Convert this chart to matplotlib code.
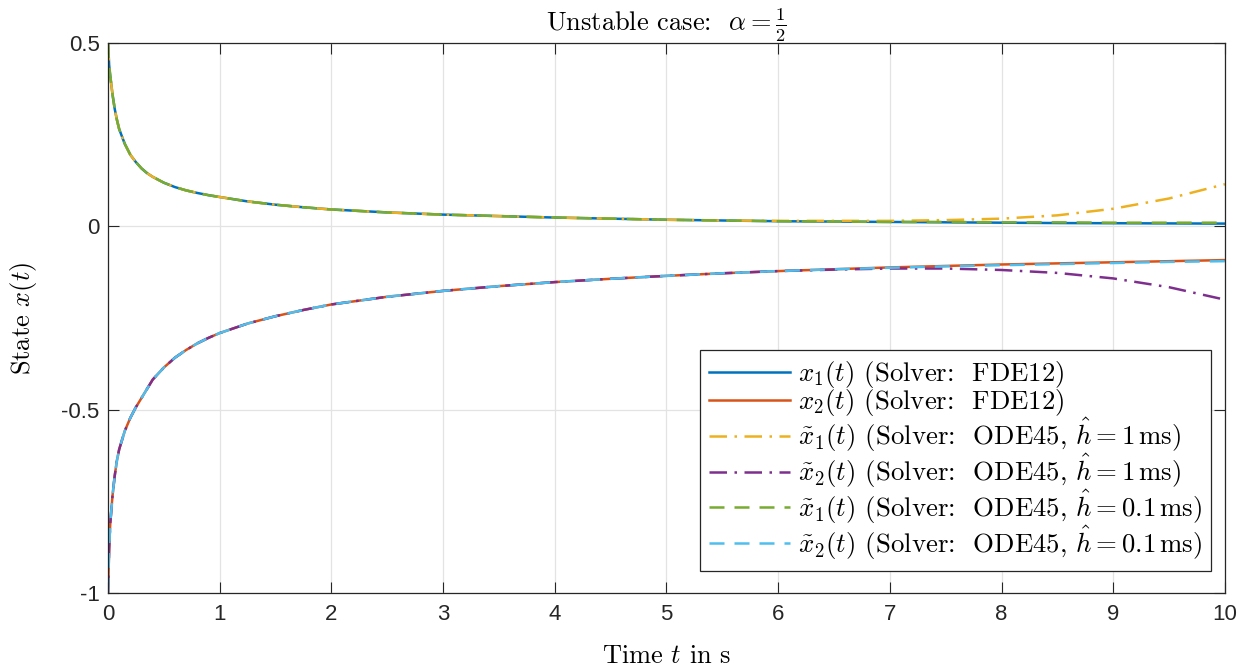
import numpy as np
import matplotlib
matplotlib.use("Agg")
import matplotlib.pyplot as plt

plt.rcParams['font.family'] = ['Liberation Sans', 'DejaVu Sans']
plt.rcParams['mathtext.fontset'] = 'cm'
SERIF = 'cmr10'

# sample times (s)
t = [0, 0.01, 0.02, 0.04, 0.06, 0.08, 0.1, 0.15, 0.2, 0.25, 0.3, 0.35, 0.4, 0.5,
     0.6, 0.7, 0.8, 0.9, 1.0, 1.25, 1.5, 1.75, 2, 2.5, 3, 3.5, 4, 4.5, 5, 5.5,
     6, 6.5, 7, 7.5, 8, 8.5, 9, 9.5, 10]

# FDE12 solutions
x1_fde = [0.5, 0.44, 0.41, 0.36, 0.32, 0.29, 0.265, 0.225, 0.195, 0.175, 0.158,
          0.145, 0.135, 0.119, 0.107, 0.098, 0.091, 0.085, 0.080, 0.068, 0.059,
          0.052, 0.046, 0.038, 0.032, 0.028, 0.024, 0.021, 0.018, 0.016, 0.014,
          0.013, 0.012, 0.011, 0.010, 0.009, 0.0085, 0.008, 0.0075]
x2_fde = [-1.0, -0.88, -0.81, -0.735, -0.68, -0.638, -0.608, -0.558, -0.522,
          -0.493, -0.468, -0.443, -0.418, -0.385, -0.358, -0.337, -0.319, -0.304,
          -0.291, -0.265, -0.245, -0.228, -0.213, -0.192, -0.176, -0.163, -0.152,
          -0.143, -0.135, -0.128, -0.122, -0.117, -0.112, -0.108, -0.104, -0.101,
          -0.098, -0.095, -0.092]

# ODE45 approximation, h = 1 ms
x1_ode_1 = [0.5, 0.44, 0.41, 0.36, 0.32, 0.29, 0.265, 0.225, 0.195, 0.175, 0.158,
            0.145, 0.135, 0.119, 0.107, 0.098, 0.091, 0.085, 0.080, 0.068, 0.059,
            0.052, 0.046, 0.038, 0.032, 0.028, 0.024, 0.021, 0.018, 0.016, 0.015,
            0.015, 0.015, 0.017, 0.021, 0.030, 0.048, 0.076, 0.115]
x2_ode_1 = [-1.0, -0.88, -0.81, -0.735, -0.68, -0.638, -0.608, -0.558, -0.522,
            -0.493, -0.468, -0.443, -0.418, -0.385, -0.358, -0.337, -0.319, -0.304,
            -0.291, -0.265, -0.245, -0.228, -0.213, -0.192, -0.176, -0.163, -0.152,
            -0.143, -0.135, -0.128, -0.122, -0.118, -0.115, -0.115, -0.119, -0.127,
            -0.142, -0.166, -0.200]

# ODE45 approximation, h = 0.1 ms
x1_ode_01 = [0.5, 0.44, 0.41, 0.36, 0.32, 0.29, 0.265, 0.225, 0.195, 0.175, 0.158,
             0.145, 0.135, 0.119, 0.107, 0.098, 0.091, 0.085, 0.080, 0.068, 0.059,
             0.052, 0.046, 0.038, 0.032, 0.028, 0.024, 0.021, 0.018, 0.016, 0.014,
             0.013, 0.012, 0.012, 0.011, 0.011, 0.010, 0.010, 0.010]
x2_ode_01 = [-1.0, -0.88, -0.81, -0.735, -0.68, -0.638, -0.608, -0.558, -0.522,
             -0.493, -0.468, -0.443, -0.418, -0.385, -0.358, -0.337, -0.319, -0.304,
             -0.291, -0.265, -0.245, -0.228, -0.213, -0.192, -0.176, -0.163, -0.152,
             -0.143, -0.135, -0.128, -0.122, -0.117, -0.113, -0.109, -0.106, -0.103,
             -0.100, -0.097, -0.095]

labels = [r'$x_1(t)$ (Solver:  FDE12)',
          r'$x_2(t)$ (Solver:  FDE12)',
          r'$\tilde{x}_1(t)$ (Solver:  ODE45, $\hat{h}=1\,\mathrm{ms}$)',
          r'$\tilde{x}_2(t)$ (Solver:  ODE45, $\hat{h}=1\,\mathrm{ms}$)',
          r'$\tilde{x}_1(t)$ (Solver:  ODE45, $\hat{h}=0.1\,\mathrm{ms}$)',
          r'$\tilde{x}_2(t)$ (Solver:  ODE45, $\hat{h}=0.1\,\mathrm{ms}$)']

colors = ['#0072BD', '#D95319', '#EDB120', '#7E2F8E', '#77AC30', '#4DBEEE']
dashdot = (0, (7, 3, 1, 3))
dashed = (0, (6, 4))
styles = ['-', '-', dashdot, dashdot, dashed, dashed]
series = [x1_fde, x2_fde, x1_ode_1, x2_ode_1, x1_ode_01, x2_ode_01]

fig = plt.figure(figsize=(12.46, 6.71), dpi=100)
ax = fig.add_axes([0.0867, 0.1162, 0.8964, 0.8197])

for y, c, ls, lab in zip(series, colors, styles, labels):
    ax.plot(t, y, color=c, linestyle=ls, linewidth=1.8, label=lab)

ax.set_xlim(0, 10)
ax.set_ylim(-1, 0.5)
ax.set_xticks(np.arange(0, 11, 1))
ax.set_yticks([-1, -0.5, 0, 0.5])
ax.set_yticklabels(['-1', '-0.5', '0', '0.5'])
ax.tick_params(direction='in', length=8, width=0.8, labelsize=16, top=True,
               right=True, colors='#262626')
ax.tick_params(axis='x', pad=8)
ax.tick_params(axis='y', pad=6)
for s in ax.spines.values():
    s.set_color('#262626')
    s.set_linewidth(0.9)
ax.grid(True, color='#e3e3e3', linewidth=0.9)
ax.set_axisbelow(True)

ax.set_title(r'Unstable case:  $\alpha=\frac{1}{2}$', fontsize=19, pad=8,
             family=SERIF)
ax.set_xlabel(r'Time $t$ in s', fontsize=19, labelpad=14, family=SERIF)
ax.set_ylabel(r'State $x(t)$', fontsize=19, labelpad=16, family=SERIF)

leg = ax.legend(loc='lower right', bbox_to_anchor=(0.9875, 0.04),
                borderaxespad=0, prop={'family': SERIF, 'size': 19.3},
                handlelength=3.0, labelspacing=-0.1, fancybox=False,
                framealpha=1, edgecolor='#262626', handletextpad=0.3,
                borderpad=0.35)
leg.get_frame().set_linewidth(0.9)

fig.savefig('out.png', dpi=100)
